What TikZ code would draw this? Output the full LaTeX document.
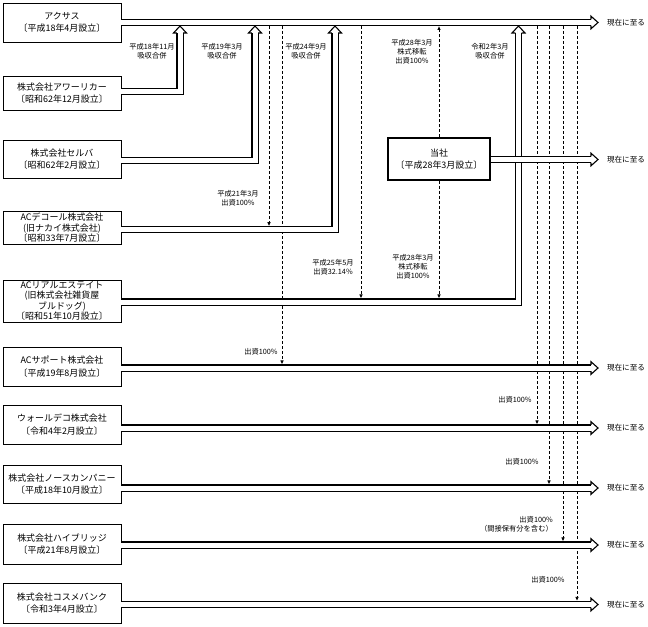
\documentclass[tikz,border=0pt]{standalone}
\usepackage{fontspec}
\setmainfont{Noto Sans CJK JP}
\usetikzlibrary{arrows.meta}
\begin{document}
\begin{tikzpicture}[x=1bp,y=-1bp,
  box/.style={draw, line width=0.9bp, minimum width=118bp, align=center, inner sep=0pt, font=\fontsize{9}{12.5}\selectfont},
  boxm/.style={box, font=\fontsize{9}{10.6}\selectfont},
  lbl/.style={align=center, inner sep=0pt, font=\fontsize{7.3}{9}\selectfont},
  now/.style={inner sep=0pt, font=\fontsize{7.6}{9}\selectfont},
  dbl/.style={draw=white, line width=5bp, line join=miter,
              preaction={draw=black, line width=7.2bp, line join=miter}},
  dsh/.style={line width=0.9bp, dash pattern=on 3bp off 2bp, -{Latex[length=4bp,width=3.6bp]}},
  headR/.pic={\fill[white] (0,-3) -- (0,-6.3) -- (7,0) -- (0,6.3) -- (0,3) -- cycle;
              \draw[line width=1.1bp, line join=miter] (0,-3.05) -- (0,-6.3) -- (7,0) -- (0,6.3) -- (0,3.05);},
  headU/.pic={\fill[white] (-3,0) -- (-6.5,0) -- (0,-7) -- (6.5,0) -- (3,0) -- cycle;
              \draw[line width=1.1bp, line join=miter] (-3.05,0) -- (-6.5,0) -- (0,-7) -- (6.5,0) -- (3.05,0);}
]
\useasboundingbox (0,0) rectangle (648,627);

% boxes
\node[box, minimum height=39bp] (b1) at (62,22.5) {アクサス\\〔平成18年4月設立〕};
\node[box, minimum height=34bp] (b2) at (62,93) {株式会社アワーリカー\\〔昭和62年12月設立〕};
\node[box, minimum height=38bp] (b3) at (62,159) {株式会社セルバ\\〔昭和62年2月設立〕};
\node[boxm, minimum height=33bp] (b4) at (62,228) {ACデコール株式会社\\(旧ナカイ株式会社)\\〔昭和33年7月設立〕};
\node[boxm, minimum height=42bp] (b5) at (62,301) {ACリアルエステイト\\(旧株式会社雑貨屋\\ブルドッグ)\\〔昭和51年10月設立〕};
\node[box, minimum height=39bp] (b6) at (62,366.5) {ACサポート株式会社\\〔平成19年8月設立〕};
\node[box, minimum height=39bp] (b7) at (62,424.5) {ウォールデコ株式会社\\〔令和4年2月設立〕};
\node[box, minimum height=38bp] (b8) at (62,484) {株式会社ノースカンパニー\\〔平成18年10月設立〕};
\node[box, minimum height=40bp] (b9) at (62,544) {株式会社ハイブリッジ\\〔平成21年8月設立〕};
\node[box, minimum height=40bp] (b10) at (62,603) {株式会社コスメバンク\\〔令和3年4月設立〕};
\node[box, line width=1.4bp, minimum width=102bp, minimum height=42bp] (ts) at (439,159) {当社\\〔平成28年3月設立〕};

% "now" labels
\node[now] (n1) at (626,22.5) {現在に至る};
\node[now] (nt) at (626,159.5) {現在に至る};
\node[now] (n6) at (626,368) {現在に至る};
\node[now] (n7) at (626,428) {現在に至る};
\node[now] (n8) at (626,488) {現在に至る};
\node[now] (n9) at (626,545) {現在に至る};
\node[now] (n10) at (626,604.5) {現在に至る};

% coordinates
\coordinate (m269) at (269,26);
\coordinate (m282) at (282,26);
\coordinate (m361) at (361,26);
\coordinate (m439) at (439,26);
\coordinate (m537) at (537,26);
\coordinate (m549) at (549,26);
\coordinate (m563) at (563,26);
\coordinate (m577) at (577,26);
\coordinate (l4) at (269,226.2);
\coordinate (l6) at (282,364.4);
\coordinate (l5a) at (361,298.4);
\coordinate (l5b) at (439,298.4);
\coordinate (l7) at (537,424.4);
\coordinate (l8) at (549,484.4);
\coordinate (l9) at (563,541.4);
\coordinate (l10) at (577,600.9);

% dashed connectors
\draw[dsh] (m269) -- (l4);
\draw[dsh] (m282) -- (l6);
\draw[dsh] (m361) -- (l5a);
\draw[dsh] (ts.north) -- (m439);
\draw[dsh] (ts.south) -- (l5b);
\draw[dsh] (m537) -- (l7);
\draw[dsh] (m549) -- (l8);
\draw[dsh] (m563) -- (l9);
\draw[dsh] (m577) -- (l10);

% merger connectors (double lines)
\coordinate (u2) at (180,33);
\coordinate (u3) at (255,33);
\coordinate (u4) at (335,33);
\coordinate (u5) at (518.5,33);
\draw[dbl] (b2.east |- 0,91.5) -- (180,91.5) -- (u2);
\draw[dbl] (b3.east |- 0,160.5) -- (255,160.5) -- (u3);
\draw[dbl] (b4.east |- 0,229.8) -- (335,229.8) -- (u4);
\draw[dbl] (b5.east |- 0,302) -- (518.5,302) -- (u5);
\pic at (u2) {headU};
\pic at (u3) {headU};
\pic at (u4) {headU};
\pic at (u5) {headU};

% continuing lines
\coordinate (e1) at (591,22.5);
\coordinate (et) at (591,159.5);
\coordinate (e6) at (591,368);
\coordinate (e7) at (591,428);
\coordinate (e8) at (591,488);
\coordinate (e9) at (591,545);
\coordinate (e10) at (591,604.5);
\draw[dbl] (b1.east) -- (e1);
\draw[dbl] (ts.east |- et) -- (et);
\draw[dbl] (b6.east |- e6) -- (e6);
\draw[dbl] (b7.east |- e7) -- (e7);
\draw[dbl] (b8.east |- e8) -- (e8);
\draw[dbl] (b9.east |- e9) -- (e9);
\draw[dbl] (b10.east |- e10) -- (e10);
\foreach \e in {e1,et,e6,e7,e8,e9,e10} { \pic at (\e) {headR}; }

% labels
\node[lbl] (L1) at (152,51.5) {平成18年11月\\吸収合併};
\node[lbl] (L2) at (222,51.5) {平成19年3月\\吸収合併};
\node[lbl] (L3) at (306,51.5) {平成24年9月\\吸収合併};
\node[lbl] (L4) at (412,52) {平成28年3月\\株式移転\\出資100\%};
\node[lbl] (L5) at (490,51.5) {令和2年3月\\吸収合併};
\node[lbl] (L6) at (238,198.5) {平成21年3月\\出資100\%};
\node[lbl] (L7) at (333,267.5) {平成25年5月\\出資32.14\%};
\node[lbl] (L8) at (413,266.5) {平成28年3月\\株式移転\\出資100\%};
\node[lbl] (L9) at (261,351.5) {出資100\%};
\node[lbl] (L10) at (515,400) {出資100\%};
\node[lbl] (L11) at (522,462) {出資100\%};
\node[lbl, align=right, anchor=east] (L12) at (553,524.5) {出資100\%\\（間接保有分を含む）};
\node[lbl] (L13) at (548,580) {出資100\%};
\end{tikzpicture}
\end{document}
